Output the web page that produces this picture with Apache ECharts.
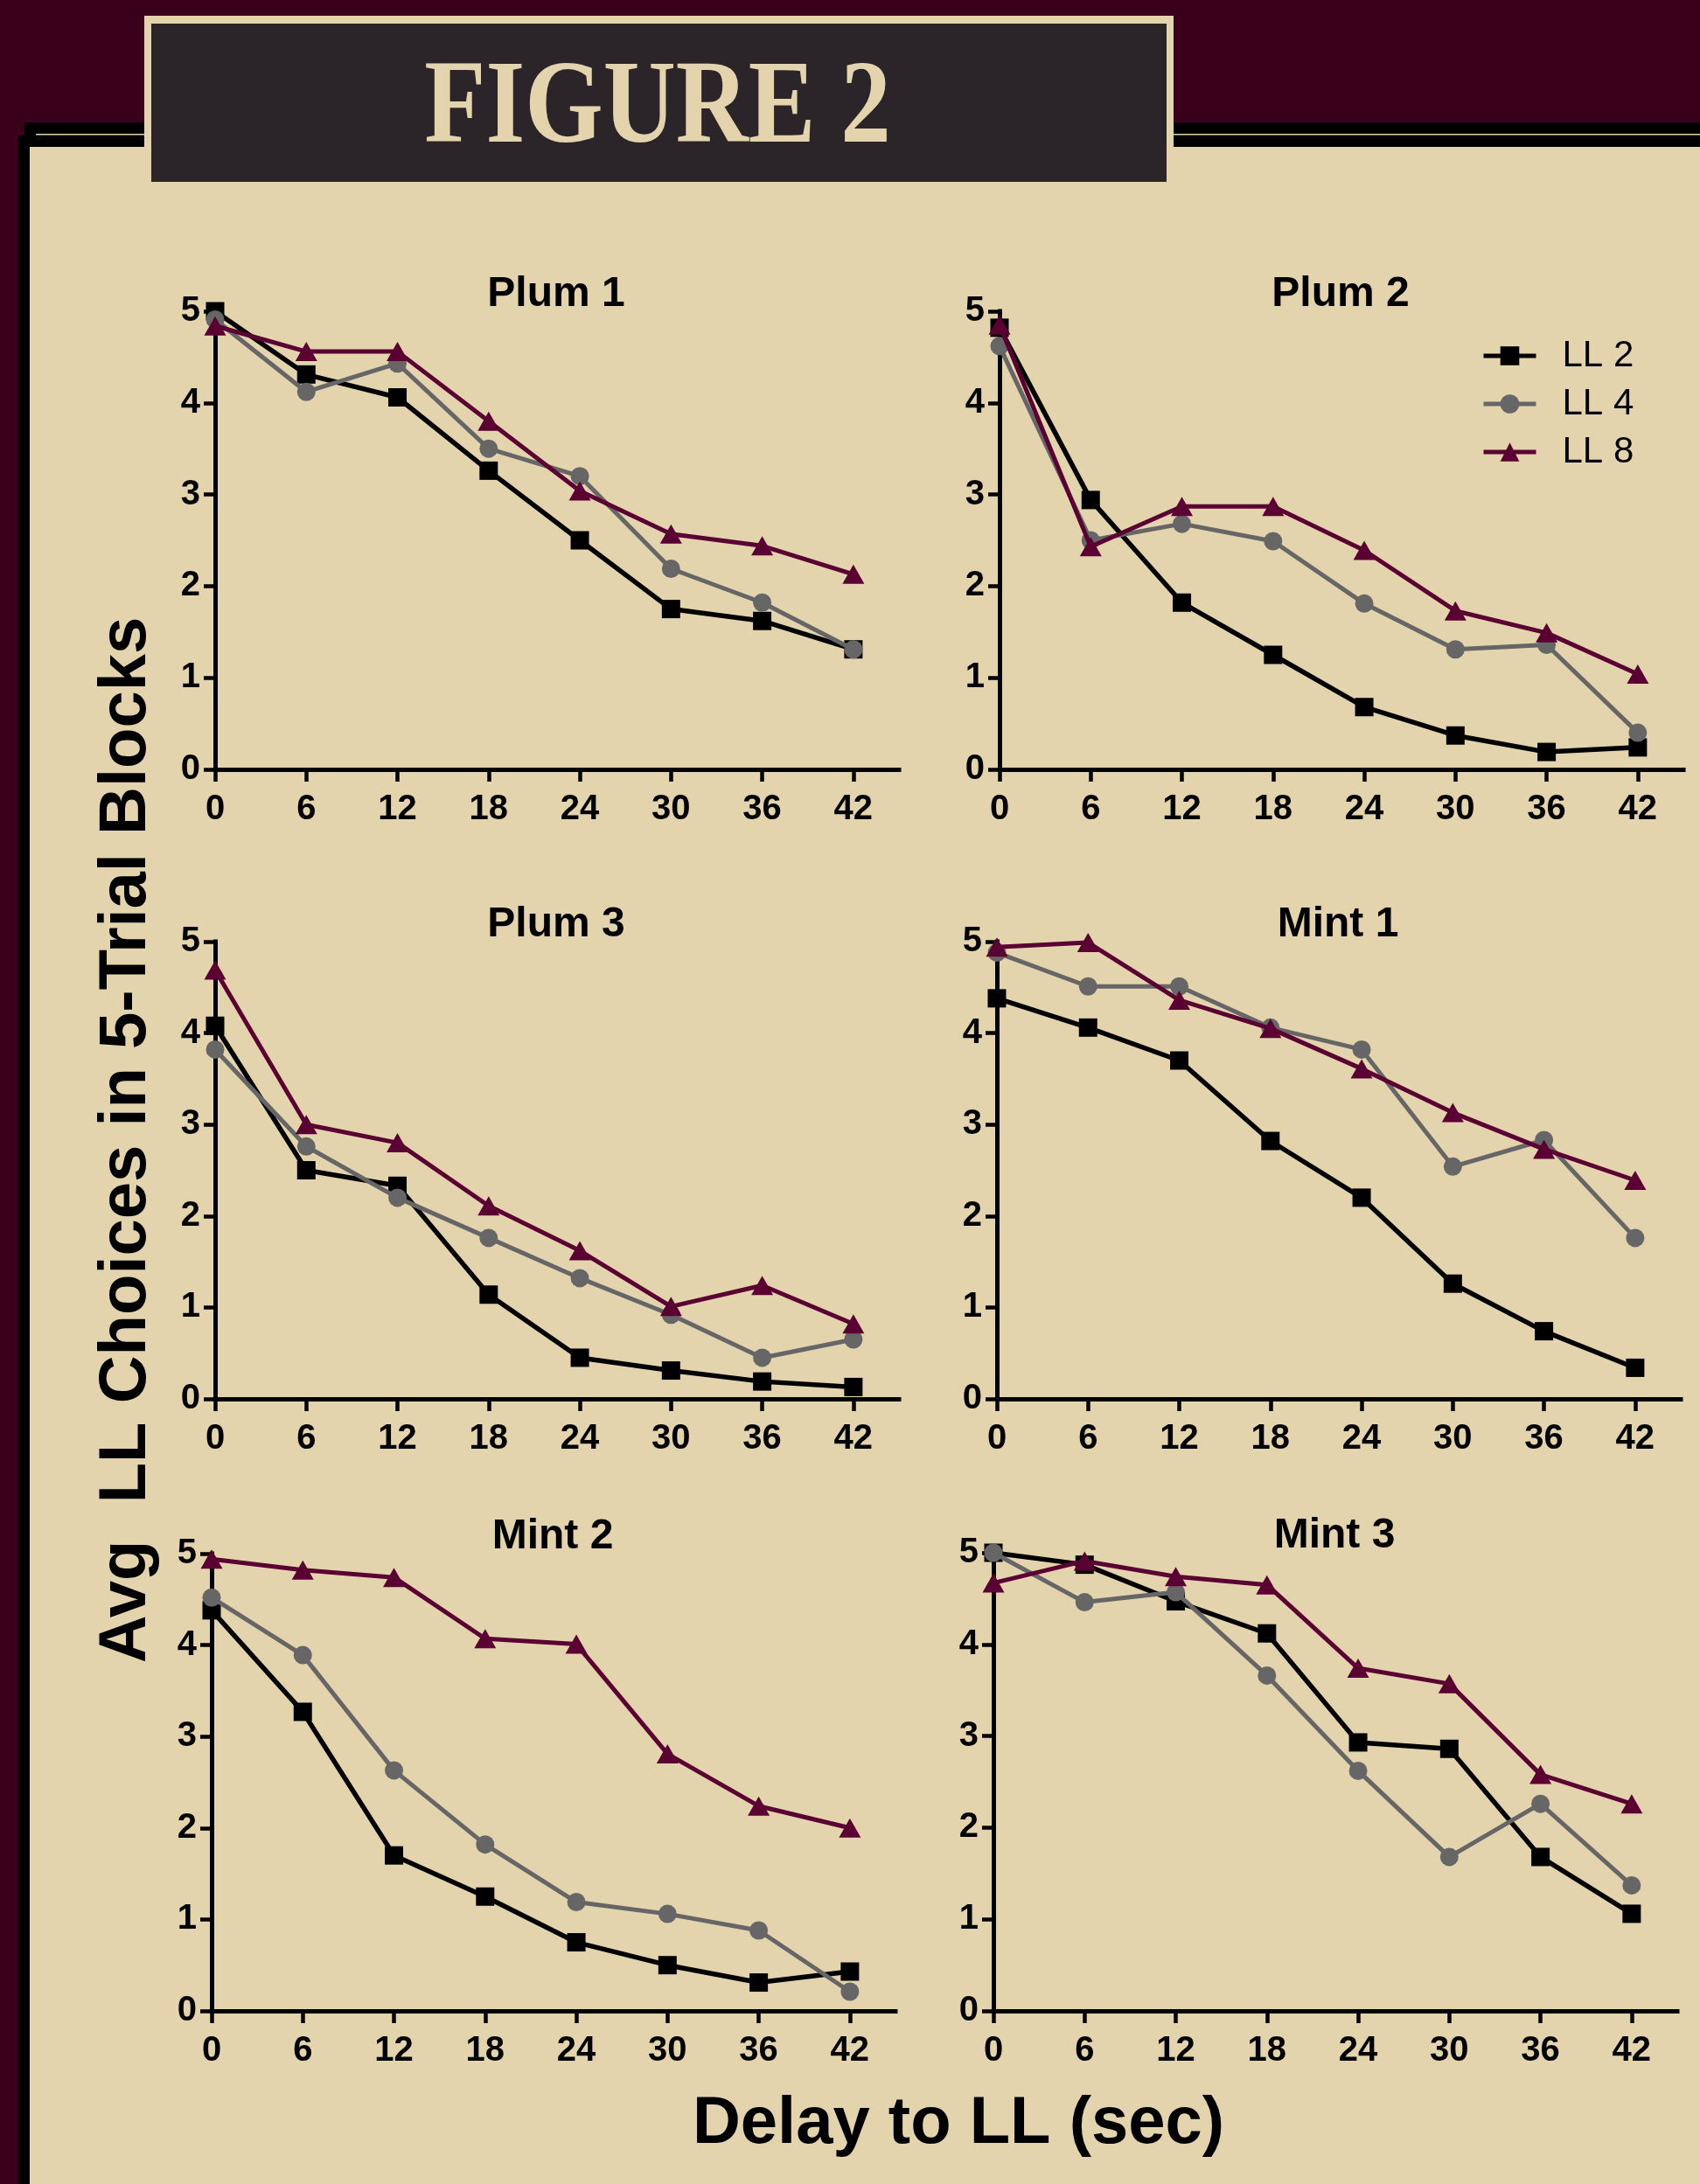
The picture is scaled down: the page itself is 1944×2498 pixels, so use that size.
<!DOCTYPE html>
<html><head><meta charset="utf-8">
<script src="https://cdn.jsdelivr.net/npm/echarts@6/dist/echarts.min.js"></script>
<style>html,body{margin:0;padding:0;background:#3a001b;} #c{width:1944px;height:2498px;}</style>
</head><body><div id="c"></div>
<script>
// ---------- data ----------
const delays = [0, 6, 12, 18, 24, 30, 36, 42];
const xTickValues = [0, 6, 12, 18, 24, 30, 36, 42];
const yTickValues = [0, 1, 2, 3, 4, 5];
const panelNames = ['Plum 1', 'Plum 2', 'Plum 3', 'Mint 1', 'Mint 2', 'Mint 3'];
const seriesNames = ['LL 2', 'LL 4', 'LL 8'];

const plum1_LL2 = [5.00, 4.31, 4.06, 3.26, 2.50, 1.75, 1.62, 1.31];
const plum1_LL4 = [4.91, 4.12, 4.43, 3.50, 3.20, 2.19, 1.82, 1.31];
const plum1_LL8 = [4.84, 4.56, 4.56, 3.80, 3.04, 2.57, 2.44, 2.13];

const plum2_LL2 = [4.82, 2.94, 1.82, 1.25, 0.68, 0.37, 0.19, 0.24];
const plum2_LL4 = [4.62, 2.50, 2.68, 2.49, 1.81, 1.31, 1.36, 0.40];
const plum2_LL8 = [4.85, 2.43, 2.87, 2.87, 2.39, 1.73, 1.49, 1.04];

const plum3_LL2 = [4.08, 2.50, 2.33, 1.14, 0.45, 0.31, 0.19, 0.13];
const plum3_LL4 = [3.82, 2.76, 2.20, 1.76, 1.32, 0.92, 0.45, 0.65];
const plum3_LL8 = [4.69, 3.00, 2.80, 2.11, 1.62, 1.01, 1.24, 0.82];

const mint1_LL2 = [4.38, 4.06, 3.70, 2.82, 2.20, 1.26, 0.74, 0.34];
const mint1_LL4 = [4.88, 4.51, 4.51, 4.06, 3.82, 2.54, 2.83, 1.76];
const mint1_LL8 = [4.94, 4.99, 4.36, 4.05, 3.61, 3.13, 2.73, 2.39];

const mint2_LL2 = [4.38, 3.27, 1.70, 1.25, 0.75, 0.50, 0.31, 0.43];
const mint2_LL4 = [4.52, 3.89, 2.63, 1.82, 1.19, 1.06, 0.88, 0.21];
const mint2_LL8 = [4.94, 4.82, 4.74, 4.07, 4.01, 2.81, 2.24, 2.00];

const mint3_LL2 = [5.00, 4.87, 4.47, 4.12, 2.93, 2.86, 1.68, 1.06];
const mint3_LL4 = [5.00, 4.46, 4.57, 3.66, 2.62, 1.68, 2.26, 1.37];
const mint3_LL8 = [4.67, 4.91, 4.74, 4.65, 3.74, 3.57, 2.58, 2.26];

const panelData = [
  [plum1_LL2, plum1_LL4, plum1_LL8],
  [plum2_LL2, plum2_LL4, plum2_LL8],
  [plum3_LL2, plum3_LL4, plum3_LL8],
  [mint1_LL2, mint1_LL4, mint1_LL8],
  [mint2_LL2, mint2_LL4, mint2_LL8],
  [mint3_LL2, mint3_LL4, mint3_LL8]
];

// ---------- layout / style ----------
const CREAM = '#e3d4ad';
const MAROON_BG = '#3a001b';
const gridBoxes = [
  { left: 246, top: 356, height: 524 },
  { left: 1143, top: 356, height: 524 },
  { left: 246, top: 1077, height: 523 },
  { left: 1140, top: 1077, height: 523 },
  { left: 242, top: 1777, height: 523 },
  { left: 1136, top: 1776, height: 524 }
];
const GRID_W = 782;
const seriesStyles = [
  { color: '#000000', symbol: 'rect', symbolSize: 21, width: 5.5 },
  { color: '#666666', symbol: 'circle', symbolSize: 21, width: 5 },
  { color: '#5a0032', symbol: 'triangle', symbolSize: [25, 22], width: 5 }
];
const FONT = 'Liberation Sans, Arial, sans-serif';

const grid = [], xAxis = [], yAxis = [], series = [];
const graphics = [
  { type: 'rect', z: -10, shape: { x: 28, y: 140, width: 1916, height: 28 }, style: { fill: '#000' } },
  { type: 'rect', z: -10, shape: { x: 21, y: 155, width: 13, height: 2343 }, style: { fill: '#000' } },
  { type: 'rect', z: -9, shape: { x: 41, y: 153, width: 1903, height: 1.6 }, style: { fill: CREAM } },
  { type: 'rect', z: -9, shape: { x: 34, y: 168, width: 1910, height: 2330 }, style: { fill: CREAM } },
  { type: 'rect', z: -8, shape: { x: 165, y: 18, width: 1177, height: 191 }, style: { fill: CREAM } },
  { type: 'rect', z: -7, shape: { x: 173, y: 27, width: 1161, height: 181 }, style: { fill: '#2b2529' } },
  { type: 'text', z: 10, x: 752, y: 127, scaleX: 0.885, scaleY: 1.05,
    style: { text: 'FIGURE 2', fill: CREAM, font: 'bold 130px "Liberation Serif", "Times New Roman", serif',
             textAlign: 'center', textVerticalAlign: 'middle' } },
  { type: 'text', z: 10, x: 145, y: 1304, rotation: Math.PI / 2,
    style: { text: 'Avg  LL Choices in 5-Trial Blocks', fill: '#000', font: 'bold 76px ' + FONT,
             textAlign: 'center', textVerticalAlign: 'middle' } },
  { type: 'text', z: 10, x: 1096, y: 2430,
    style: { text: 'Delay to LL (sec)', fill: '#000', font: 'bold 76px ' + FONT,
             textAlign: 'center', textVerticalAlign: 'middle' } }
];

gridBoxes.forEach((g, i) => {
  grid.push({ left: g.left, top: g.top, width: GRID_W, height: g.height, containLabel: false, outerBoundsMode: 'none' });
  xAxis.push({
    gridIndex: i, type: 'value', min: 0, max: 45,
    axisLine: { show: true, onZero: false, lineStyle: { color: '#000', width: 5, cap: 'square' } },
    axisTick: { show: true, length: 14, customValues: xTickValues, lineStyle: { color: '#000', width: 4.5 } },
    axisLabel: { customValues: xTickValues, fontSize: 40, fontWeight: 'bold', fontFamily: FONT, color: '#000', margin: 26 },
    splitLine: { show: false }
  });
  yAxis.push({
    gridIndex: i, type: 'value', min: 0, max: 5, interval: 1,
    axisLine: { show: true, onZero: false, lineStyle: { color: '#000', width: 5, cap: 'square' } },
    axisTick: { show: true, length: 13, customValues: yTickValues, lineStyle: { color: '#000', width: 4.5 } },
    axisLabel: { customValues: yTickValues, fontSize: 40, fontWeight: 'bold', fontFamily: FONT, color: '#000', margin: 17 },
    splitLine: { show: false }
  });
  panelData[i].forEach((vals, k) => {
    const st = seriesStyles[k];
    series.push({
      name: seriesNames[k], type: 'line', xAxisIndex: i, yAxisIndex: i,
      data: delays.map((d, j) => [d, vals[j]]),
      symbol: st.symbol, symbolSize: st.symbolSize, showSymbol: true,
      itemStyle: { color: st.color, opacity: 1 },
      lineStyle: { color: st.color, width: st.width },
      z: 2 + k, animation: false
    });
  });
  graphics.push({
    type: 'text', z: 10, x: g.left + 390, y: g.top - 19,
    style: { text: panelNames[i], fill: '#000', font: 'bold 48px ' + FONT, textAlign: 'center', textVerticalAlign: 'middle' }
  });
});

const chart = echarts.init(document.getElementById('c'), null, { renderer: 'canvas', width: 1944, height: 2498 });
chart.setOption({
  backgroundColor: MAROON_BG,
  animation: false,
  grid, xAxis, yAxis, series,
  legend: {
    data: seriesNames, orient: 'vertical', left: 1689, top: 381,
    itemWidth: 60, itemHeight: 27, itemGap: 13,
    lineStyle: { width: 5 },
    textStyle: { fontSize: 42, fontFamily: FONT, color: '#000', lineHeight: 42, padding: [0, 0, 0, 25] },
    selectedMode: false
  },
  graphic: graphics
});
</script>
</body></html>
